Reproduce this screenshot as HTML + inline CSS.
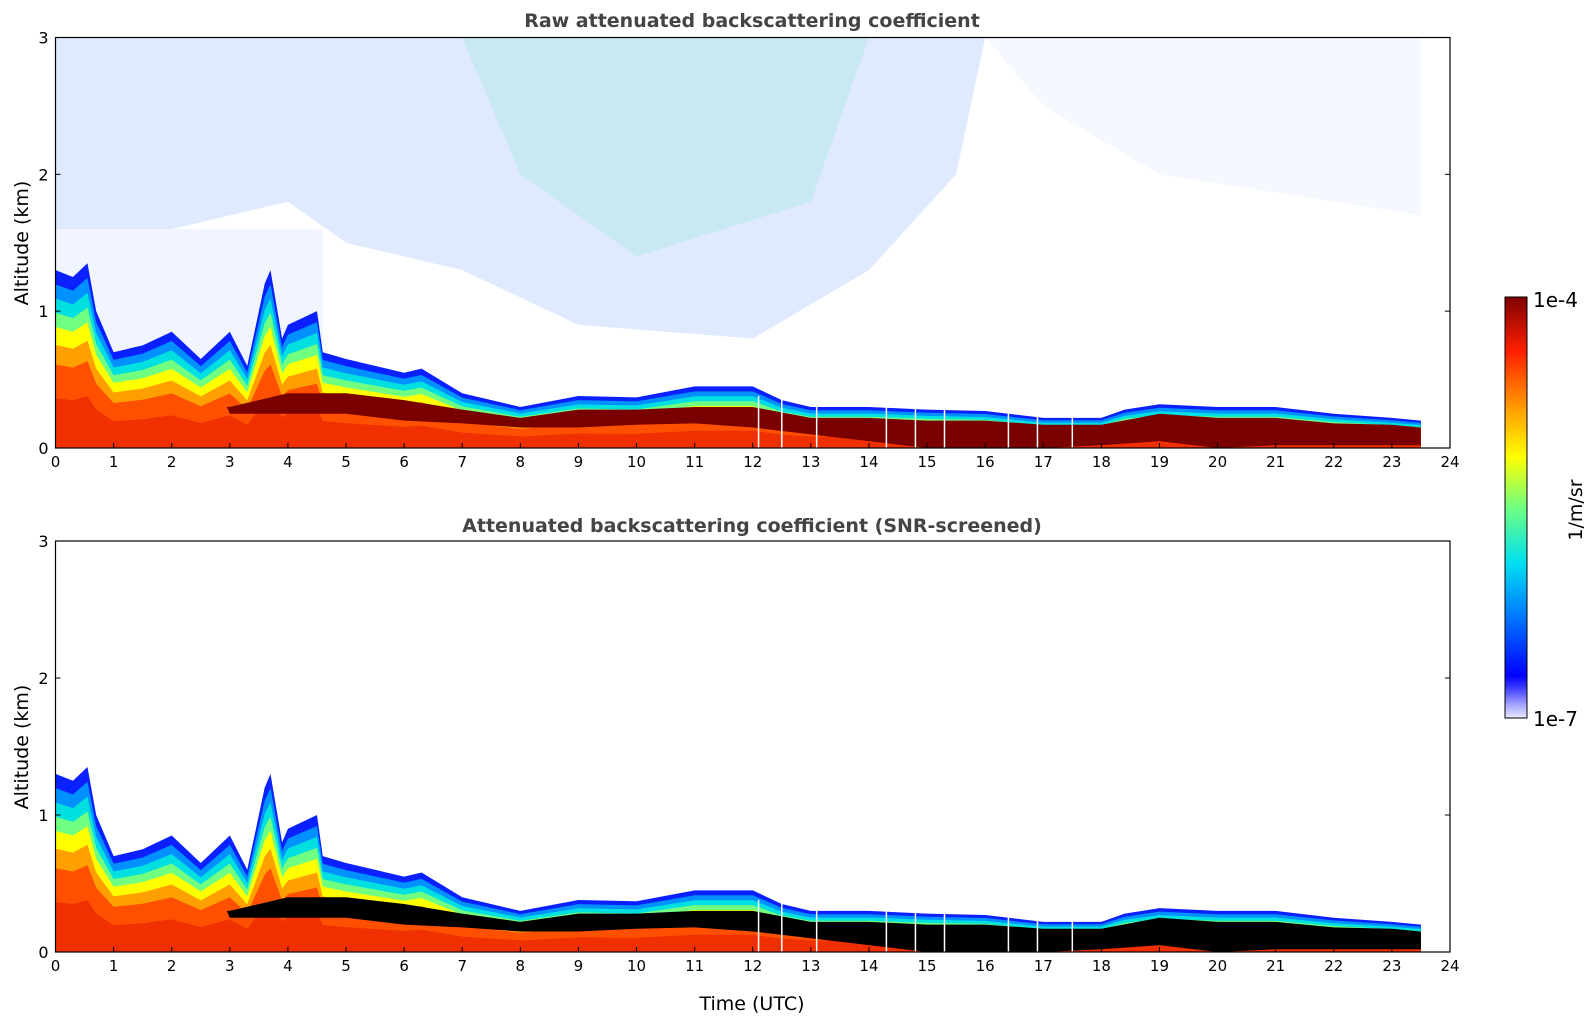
<!DOCTYPE html>
<html><head><meta charset="utf-8"><style>
html,body{margin:0;padding:0;background:#fff;}
svg text{font-family:"DejaVu Sans","Liberation Sans",sans-serif;}
</style></head><body>
<svg id="chart" width="1595" height="1020" viewBox="0 0 1595 1020" xmlns="http://www.w3.org/2000/svg">
<defs>
<linearGradient id="jet" x1="0" y1="1" x2="0" y2="0">
<stop offset="0" stop-color="#e8e8ff"/><stop offset="0.03" stop-color="#a8a8ff"/><stop offset="0.07" stop-color="#4040ff"/>
<stop offset="0.1" stop-color="#0000ff"/><stop offset="0.25" stop-color="#0080ff"/><stop offset="0.37" stop-color="#00e0f0"/>
<stop offset="0.5" stop-color="#70ff80"/><stop offset="0.62" stop-color="#ffff00"/><stop offset="0.75" stop-color="#ff9000"/>
<stop offset="0.87" stop-color="#ff2000"/><stop offset="1" stop-color="#800000"/></linearGradient>
<clipPath id="c1"><rect x="55.5" y="37.5" width="1394.5" height="410.5"/></clipPath>
<clipPath id="c2"><rect x="55.5" y="541" width="1394.5" height="411"/></clipPath>
</defs>
<text x="752" y="27" text-anchor="middle" font-size="19" font-weight="bold" fill="#444">Raw attenuated backscattering coefficient</text>
<text x="752" y="532" text-anchor="middle" font-size="19" font-weight="bold" fill="#444">Attenuated backscattering coefficient (SNR-screened)</text>
<g id="p1" clip-path="url(#c1)"></g>
<g id="p2" clip-path="url(#c2)"></g>
<g id="axes"></g>
<text x="752" y="1010" text-anchor="middle" font-size="19" fill="#000">Time (UTC)</text>
<text transform="translate(28,243) rotate(-90)" text-anchor="middle" font-size="19">Altitude (km)</text>
<text transform="translate(28,747) rotate(-90)" text-anchor="middle" font-size="19">Altitude (km)</text>
<rect x="1505" y="297" width="22" height="421" fill="url(#jet)" stroke="#000" stroke-width="1"/>
<text x="1533" y="307" font-size="20">1e-4</text>
<text x="1533" y="726" font-size="20">1e-7</text>
<text transform="translate(1582,510) rotate(-90)" text-anchor="middle" font-size="19">1/m/sr</text>
</svg>
<script>
const times=[0,0.3,0.55,0.7,1,1.5,2,2.5,3,3.3,3.6,3.7,3.9,4,4.5,4.6,5,5.5,6,6.3,7,8,9,10,11,12,12.5,13,14,15,16,17,18,18.4,19,20,21,22,23,23.5];
const layerTop=[1.3,1.25,1.35,1.0,0.7,0.75,0.85,0.65,0.85,0.6,1.2,1.3,0.8,0.9,1.0,0.7,0.65,0.6,0.55,0.58,0.4,0.3,0.38,0.37,0.45,0.45,0.35,0.3,0.3,0.28,0.27,0.22,0.22,0.28,0.32,0.3,0.3,0.25,0.22,0.2];
const denseTimes=[0,2.95,3,4,5,6,7,8,9,10,11,12,13,14,15,16,17,18,19,20,21,22,23,23.5];
const denseTop=[0.3,0.3,0.3,0.4,0.4,0.35,0.28,0.22,0.28,0.28,0.3,0.3,0.22,0.22,0.2,0.2,0.17,0.17,0.25,0.22,0.22,0.18,0.17,0.15];
const denseBot=[0.3,0.3,0.25,0.25,0.25,0.2,0.18,0.15,0.15,0.17,0.18,0.15,0.1,0.05,0.0,0.0,0.0,0.02,0.05,0.0,0.02,0.02,0.02,0.02];
const gapTimes=[12.1,12.5,13.1,14.3,14.8,15.3,16.4,16.9,17.5];
const xTicks=[0,1,2,3,4,5,6,7,8,9,10,11,12,13,14,15,16,17,18,19,20,21,22,23,24];
const yTicks=[0,1,2,3];
const NS='http://www.w3.org/2000/svg';
const X0=55.5,X1=1450;
const px=t=>X0+t*(X1-X0)/24;
const panels=[{top:37.5,bot:448,g:document.getElementById('p1'),dense:'#7a0000',raw:true},{top:541,bot:952,g:document.getElementById('p2'),dense:'#000',raw:false}];
function mk(tag,attrs,parent){const e=document.createElementNS(NS,tag);for(const k in attrs)e.setAttribute(k,attrs[k]);parent.appendChild(e);return e;}
const bands=[[1.0,'#0a20ff'],[0.92,'#0090ff'],[0.84,'#00e0e0'],[0.76,'#70ff80'],[0.68,'#ffff00'],[0.58,'#ffa000'],[0.47,'#ff5000'],[0.28,'#f03000']];
panels.forEach((P,pi)=>{
  const py=h=>P.bot-h*(P.bot-P.top)/3;
  if(P.raw){
    const sp=mk('polygon',{points:[[0,3],[16,3],[15.5,2],[14,1.3],[12,0.8],[9,0.9],[7,1.3],[5,1.5],[4,1.8],[2,1.6],[0,1.6]].map(p=>px(p[0])+','+py(p[1])).join(' '),fill:'#3a7aff','fill-opacity':0.16},P.g);
    
    
    const sp2=mk('polygon',{points:[[7,3],[14,3],[13,1.8],[10,1.4],[8,2]].map(p=>px(p[0])+','+py(p[1])).join(' '),fill:'#40e0a0','fill-opacity':0.14},P.g);
    
    
    const sp3=mk('polygon',{points:[[16,3],[23.5,3],[23.5,1.7],[19,2],[17,2.5]].map(p=>px(p[0])+','+py(p[1])).join(' '),fill:'#3a7aff','fill-opacity':0.05},P.g);
    
    
    const sp4=mk('polygon',{points:[[0,1.6],[4.6,1.6],[4.6,0.6],[0,0.6]].map(p=>px(p[0])+','+py(p[1])).join(' '),fill:'#3a7aff','fill-opacity':0.08},P.g);
    
    
  }
  bands.forEach(([f,c],bi)=>{
    let pts=times.map((t,i)=>px(t)+','+py(layerTop[i]*f));
    pts.push(px(times[times.length-1])+','+py(0),px(0)+','+py(0));
    const e=mk('polygon',{points:pts.join(' '),fill:c},P.g);
    
    
  });
  let dp=denseTimes.map((t,i)=>px(t)+','+py(denseTop[i]));
  for(let i=denseTimes.length-1;i>=0;i--)dp.push(px(denseTimes[i])+','+py(denseBot[i]));
  const d=mk('polygon',{points:dp.join(' '),fill:P.dense},P.g);
  
  
  gapTimes.forEach(t=>{
    const i=times.findIndex(v=>v>=t);
    const g=mk('line',{x1:px(t),x2:px(t),y1:py(0),y2:py(layerTop[i]+0.03),stroke:'#fff','stroke-width':1.5},P.g);
    
    
  });
  const A=document.getElementById('axes');
  const fr=mk('rect',{x:X0,y:P.top,width:X1-X0,height:P.bot-P.top,fill:'none',stroke:'#000','stroke-width':1.2},A);
  
  
  xTicks.forEach(v=>{
    mk('line',{x1:px(v),x2:px(v),y1:P.bot,y2:P.bot-5,stroke:'#000'},A);
    const t=mk('text',{x:px(v),y:P.bot+19,'text-anchor':'middle','font-size':15},A);
    t.textContent=v;
    
    
  });
  yTicks.forEach(v=>{
    mk('line',{x1:X0,x2:X0+5,y1:py(v),y2:py(v),stroke:'#000'},A);
    mk('line',{x1:X1,x2:X1-5,y1:py(v),y2:py(v),stroke:'#000'},A);
    const t=mk('text',{x:X0-7,y:py(v)+6,'text-anchor':'end','font-size':16},A);
    t.textContent=v;
    
    
  });
});
</script>
</body></html>
